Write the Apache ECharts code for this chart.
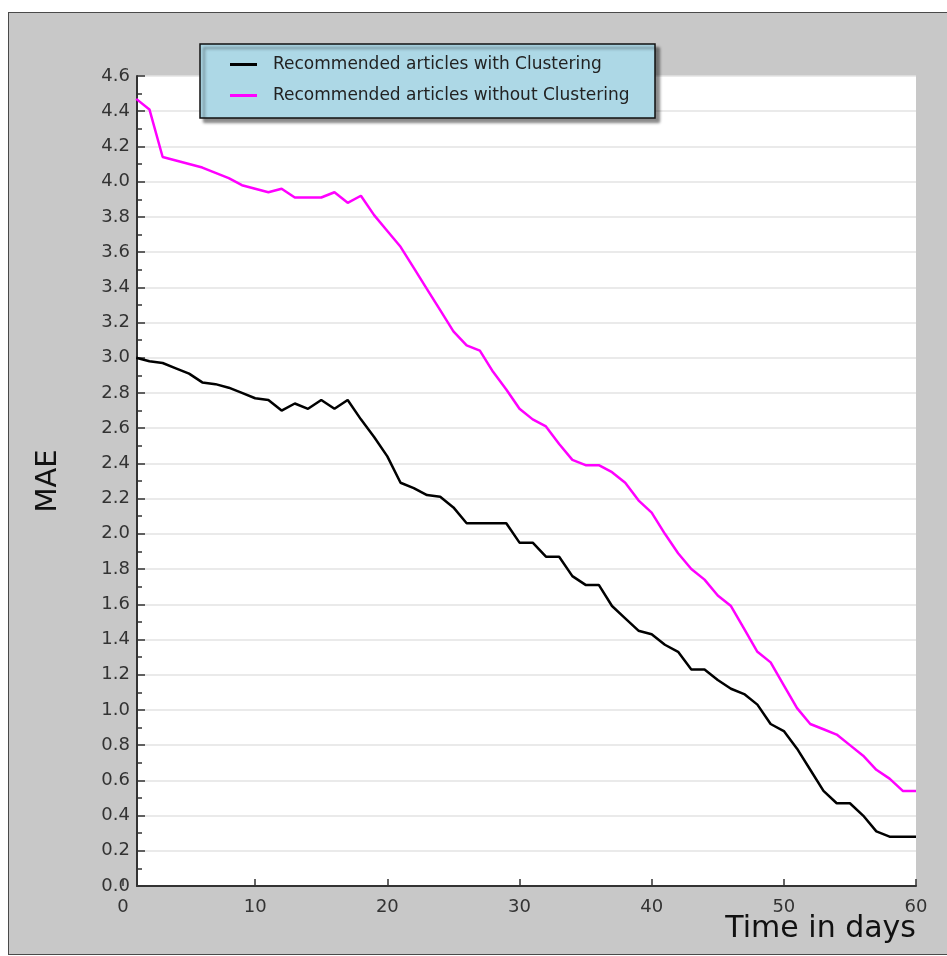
<!DOCTYPE html>
<html>
<head>
<meta charset="utf-8">
<title>MAE over time</title>
<script src="https://cdn.jsdelivr.net/npm/echarts@6/dist/echarts.min.js"></script>
<style>
  html, body { margin: 0; padding: 0; background: #ffffff; overflow: hidden; }
  #frame {
    position: absolute; left: 8px; top: 12px; width: 960px; height: 943px;
    background: #c8c8c8; border: 1px solid #4a4a4a; box-sizing: border-box;
  }
  #chart { position: absolute; left: 0; top: 0; width: 947px; height: 956px; }
</style>
</head>
<body>
<div id="frame"></div>
<div id="chart"></div>
<script>
// Day index of each observation
const days = [
  1, 2, 3, 4, 5, 6, 7, 8, 9, 10,
  11, 12, 13, 14, 15, 16, 17, 18, 19, 20,
  21, 22, 23, 24, 25, 26, 27, 28, 29, 30,
  31, 32, 33, 34, 35, 36, 37, 38, 39, 40,
  41, 42, 43, 44, 45, 46, 47, 48, 49, 50,
  51, 52, 53, 54, 55, 56, 57, 58, 59, 60
];

// MAE for recommended articles with clustering
const maeWithClustering = [
  3.00, 2.98, 2.97, 2.94, 2.91, 2.86, 2.85, 2.83, 2.80, 2.77,
  2.76, 2.70, 2.74, 2.71, 2.76, 2.71, 2.76, 2.65, 2.55, 2.44,
  2.29, 2.26, 2.22, 2.21, 2.15, 2.06, 2.06, 2.06, 2.06, 1.95,
  1.95, 1.87, 1.87, 1.76, 1.71, 1.71, 1.59, 1.52, 1.45, 1.43,
  1.37, 1.33, 1.23, 1.23, 1.17, 1.12, 1.09, 1.03, 0.92, 0.88,
  0.78, 0.66, 0.54, 0.47, 0.47, 0.40, 0.31, 0.28, 0.28, 0.28
];

// MAE for recommended articles without clustering
const maeWithoutClustering = [
  4.47, 4.41, 4.14, 4.12, 4.10, 4.08, 4.05, 4.02, 3.98, 3.96,
  3.94, 3.96, 3.91, 3.91, 3.91, 3.94, 3.88, 3.92, 3.81, 3.72,
  3.63, 3.51, 3.39, 3.27, 3.15, 3.07, 3.04, 2.92, 2.82, 2.71,
  2.65, 2.61, 2.51, 2.42, 2.39, 2.39, 2.35, 2.29, 2.19, 2.12,
  2.00, 1.89, 1.80, 1.74, 1.65, 1.59, 1.46, 1.33, 1.27, 1.14,
  1.01, 0.92, 0.89, 0.86, 0.80, 0.74, 0.66, 0.61, 0.54, 0.54
];

const seriesNames = [
  'Recommended articles with Clustering',
  'Recommended articles without Clustering'
];

const xTicks = { min: 0, max: 60, interval: 10 };
const yTicks = { min: 0, max: 4.6, interval: 0.2 };

const FONT = '"DejaVu Sans", Verdana, sans-serif';
const toPairs = (xs, ys) => xs.map((x, i) => [x, ys[i]]);

const chart = echarts.init(document.getElementById('chart'), null, { renderer: 'canvas' });

chart.setOption({
  backgroundColor: 'transparent',
  animation: false,
  textStyle: { fontFamily: FONT },
  // x-axis caption, right-aligned under the plot
  title: {
    text: 'Time in days',
    right: 31, top: 914, padding: 0,
    textStyle: { fontSize: 30, fontWeight: 'normal', color: '#111', fontFamily: FONT }
  },
  grid: [
    // data grid: x scale starts slightly left of the plotted frame
    { left: 123, right: 31, top: 76, bottom: 70, show: false, outerBoundsMode: 'none', containLabel: false },
    // white plotting frame with the value axis
    { left: 137, right: 31, top: 76, bottom: 70, show: true, backgroundColor: '#ffffff', borderWidth: 0,
      outerBoundsMode: 'none', containLabel: false }
  ],
  xAxis: [
    {
      gridIndex: 0, type: 'value',
      min: xTicks.min, max: xTicks.max, interval: xTicks.interval,
      axisLine: { show: false },
      axisTick: { show: true, inside: true, length: 7, lineStyle: { color: '#333', width: 1.5 } },
      axisLabel: { fontSize: 18, color: '#333', margin: 12, fontFamily: FONT },
      splitLine: { show: false }
    },
    {
      gridIndex: 1, type: 'value', min: 0, max: 1,
      axisLine: { show: true, onZero: false, lineStyle: { color: '#333', width: 2 } },
      axisTick: { show: false }, axisLabel: { show: false }, splitLine: { show: false }
    }
  ],
  yAxis: [
    {
      gridIndex: 0, type: 'value',
      min: yTicks.min, max: yTicks.max, interval: yTicks.interval,
      show: false
    },
    {
      gridIndex: 1, type: 'value',
      min: yTicks.min, max: yTicks.max, interval: yTicks.interval,
      axisLine: { show: true, onZero: false, lineStyle: { color: '#333', width: 2 } },
      axisTick: { show: true, inside: true, length: 8, lineStyle: { color: '#333', width: 1.5 } },
      minorTick: { show: true, splitNumber: 2, length: 5, lineStyle: { color: '#333', width: 1.5 } },
      axisLabel: {
        fontSize: 18, color: '#333', margin: 7, fontFamily: FONT,
        formatter: v => v.toFixed(1)
      },
      splitLine: { show: true, lineStyle: { color: '#e3e3e3', width: 1.5 } },
      name: 'MAE',
      nameLocation: 'middle',
      nameRotate: 90,
      nameGap: 74,
      nameTextStyle: { fontSize: 29, color: '#111', fontFamily: FONT }
    }
  ],
  graphic: [
    {
      type: 'rect', z: 3,
      shape: { x: 200, y: 44, width: 455, height: 74 },
      style: {
        fill: '#add8e6', stroke: '#111', lineWidth: 1.5,
        shadowColor: 'rgba(0,0,0,0.45)', shadowBlur: 3, shadowOffsetX: 4, shadowOffsetY: 4
      }
    }
  ],
  legend: {
    z: 4,
    orient: 'vertical',
    left: 225, top: 51,
    itemWidth: 27, itemHeight: 3,
    itemGap: 14,
    icon: 'rect',
    textStyle: { fontSize: 17, color: '#222', fontFamily: FONT, padding: [0, 0, 0, 11] },
    data: seriesNames
  },
  series: [
    {
      name: seriesNames[0], type: 'line',
      xAxisIndex: 0, yAxisIndex: 0,
      data: toPairs(days, maeWithClustering),
      symbol: 'none',
      lineStyle: { color: '#000000', width: 2.5 },
      itemStyle: { color: '#000000' },
      z: 2
    },
    {
      name: seriesNames[1], type: 'line',
      xAxisIndex: 0, yAxisIndex: 0,
      data: toPairs(days, maeWithoutClustering),
      symbol: 'none',
      lineStyle: { color: '#ff00ff', width: 2.5 },
      itemStyle: { color: '#ff00ff' },
      z: 2
    }
  ]
});
</script>
</body>
</html>
